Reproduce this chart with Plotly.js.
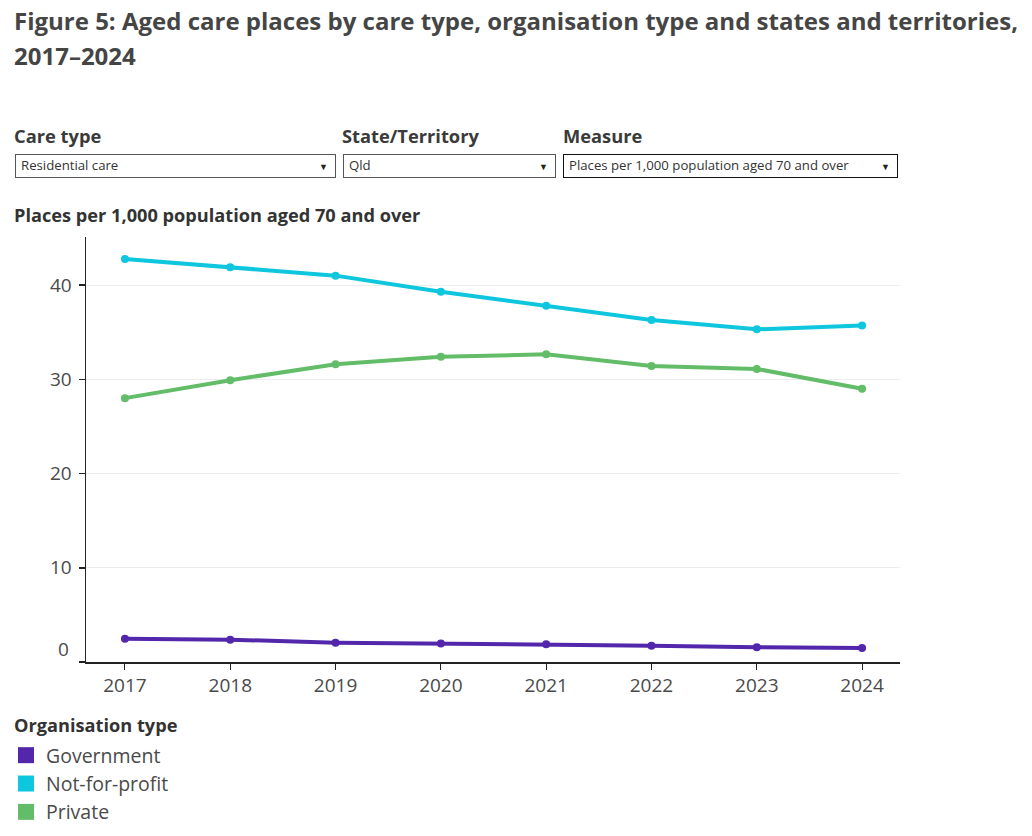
<!DOCTYPE html>
<html>
<head>
<meta charset="utf-8">
<script src="https://cdn.plot.ly/plotly-3.0.1.min.js"></script>
<style>
  html, body { margin:0; padding:0; background:#fff; width:1032px; height:836px; overflow:hidden; font-family: "Open Sans", sans-serif; }
  #chart { position:absolute; left:0; top:0; width:1032px; height:836px; }
  .t { position:absolute; color:#404040; white-space:nowrap; }
  .title { left:14px; top:3px; font-size:24px; font-weight:700; line-height:35px; color:#454545; }
  .flabel { font-size:18.3px; font-weight:700; top:123px; color:#3a3a3a; }
  .box { position:absolute; top:154px; height:22px; border:1px solid #555; background:#fff; font-size:13.2px; color:#333; box-sizing:content-box; }
  .box span { position:absolute; left:5px; top:1px; }
  .box i { position:absolute; right:7px; top:5px; font-style:normal; font-size:9px; color:#222; }
  .ytitle { left:14px; top:203px; font-size:18.2px; font-weight:700; color:#333; }
  .ltitle { left:14px; top:713px; font-size:18.2px; font-weight:700; color:#333; }
</style>
</head>
<body>
<div id="chart"></div>
<div class="t title">Figure 5: Aged care places by care type, organisation type and states and territories,<br>2017–2024</div>
<div class="t flabel" style="left:14px;">Care type</div>
<div class="t flabel" style="left:342px;">State/Territory</div>
<div class="t flabel" style="left:563px;">Measure</div>
<div class="box" style="left:15px;width:319px;"><span>Residential care</span><i>&#9660;</i></div>
<div class="box" style="left:343px;width:211px;"><span>Qld</span><i>&#9660;</i></div>
<div class="box" style="left:563px;width:333px;border-color:#111;"><span>Places per 1,000 population aged 70 and over</span><i>&#9660;</i></div>
<div class="t ytitle">Places per 1,000 population aged 70 and over</div>
<div class="t ltitle">Organisation type</div>
<script>
const years = [2017, 2018, 2019, 2020, 2021, 2022, 2023, 2024];
const government = [2.47, 2.37, 2.05, 1.96, 1.88, 1.73, 1.56, 1.49];
const notForProfit = [42.76, 41.9, 41.0, 39.3, 37.8, 36.3, 35.3, 35.7];
const privateOrg = [28.0, 29.9, 31.6, 32.4, 32.65, 31.4, 31.1, 29.0];
const seriesNames = ['Government', 'Not-for-profit', 'Private'];
const colors = ['#5227ab', '#0ec6de', '#63bd68'];
const yTicks = [0, 10, 20, 30, 40];
const yTickText = ['', '10', '20', '30', '40'];

const seriesVals = [government, notForProfit, privateOrg];
const traces = [];
seriesVals.forEach((vals, i) => {
  traces.push({
    x: years, y: vals, type: 'scatter', mode: 'lines+markers',
    name: seriesNames[i], showlegend: false,
    line: { color: colors[i], width: 4 },
    marker: { color: colors[i], size: 8 },
    hoverinfo: 'x+y'
  });
});
seriesVals.forEach((vals, i) => {
  traces.push({
    x: [null], y: [null], type: 'scatter', mode: 'markers',
    name: seriesNames[i], showlegend: true,
    marker: { color: colors[i], size: 16, symbol: 'square' }
  });
});

const W = 1032, H = 836;
const L = 86, R = 132, T = 237, B = 174;
const pw = W - L - R, ph = H - T - B;
const FONT = '"Open Sans", sans-serif';

const layout = {
  width: W, height: H,
  margin: { l: L, r: R, t: T, b: B, pad: 0, autoexpand: false },
  paper_bgcolor: '#ffffff', plot_bgcolor: '#ffffff',
  font: { family: FONT, color: '#555555', size: 18 },
  xaxis: {
    range: [2016.63, 2024.36],
    tickvals: years, ticktext: years.map(String),
    showgrid: false, zeroline: false,
    showline: true, linecolor: '#222', linewidth: 1.5,
    ticks: 'outside', ticklen: 6, tickcolor: '#222', tickwidth: 1,
    tickfont: { size: 19, color: '#4a4a4a' },
    fixedrange: true
  },
  yaxis: {
    range: [0, 45.1],
    tickvals: yTicks, ticktext: yTickText,
    showgrid: true, gridcolor: '#ededed', gridwidth: 1,
    zeroline: false,
    showline: true, linecolor: '#222', linewidth: 1.5,
    ticks: 'outside', ticklen: 6, tickcolor: '#222', tickwidth: 1.5,
    tickfont: { size: 19, color: '#4a4a4a' },
    ticklabelstandoff: 3,
    fixedrange: true
  },
  annotations: [{
    text: '0', xref: 'paper', yref: 'y', x: -15 / pw, y: 0,
    xanchor: 'right', yanchor: 'middle', yshift: 13, showarrow: false,
    font: { size: 19, color: '#4a4a4a' }
  }],
  legend: {
    x: (6 - L) / pw, y: (H - B - 736) / ph, xanchor: 'left', yanchor: 'top',
    orientation: 'v', bgcolor: 'rgba(0,0,0,0)',
    font: { size: 19.5, color: '#4a4a4a' },
    itemwidth: 30, tracegroupgap: 0
  },
  showlegend: true
};

Plotly.newPlot('chart', traces, layout, { displayModeBar: false, staticPlot: true });
</script>
</body>
</html>
